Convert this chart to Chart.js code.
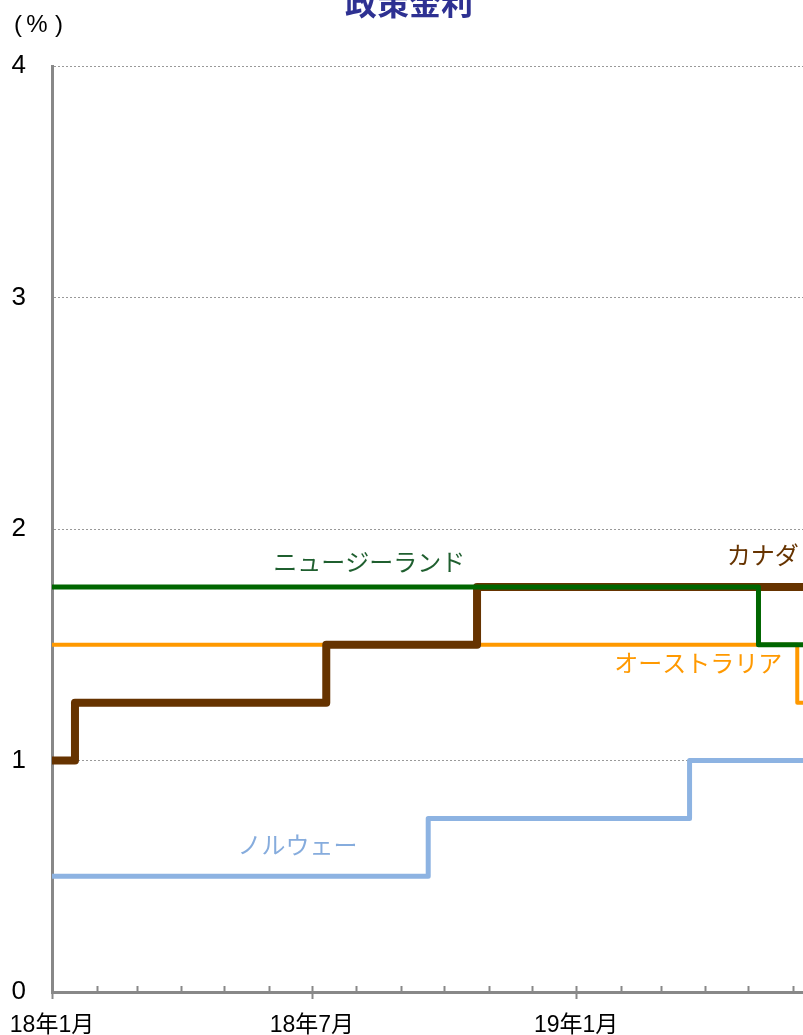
<!DOCTYPE html>
<html lang="ja">
<head>
<meta charset="UTF-8">
<title>政策金利</title>
<style>
  *{margin:0;padding:0}
  body{background:#fff;width:803px;height:1035px;overflow:hidden}
  #chart{display:block}
</style>
</head>
<body>
<canvas id="chart" width="803" height="1035"></canvas>
<script src="https://cdn.jsdelivr.net/npm/chart.js"></script>
<script>
// ---- data (change dates and rates, %) ----
const nzDates = ['2018-01-01','2019-05-08','2019-06-30'];
const nzRates = [1.75, 1.50, 1.50];
const caDates = ['2018-01-01','2018-01-17','2018-07-11','2018-10-24','2019-06-30'];
const caRates = [1.00, 1.25, 1.50, 1.75, 1.75];
const auDates = ['2018-01-01','2019-06-04','2019-06-30'];
const auRates = [1.50, 1.25, 1.25];
const noDates = ['2018-01-01','2018-09-20','2019-03-21','2019-06-30'];
const noRates = [0.50, 0.75, 1.00, 1.00];

const xStart = '2018-01-01';
const xEnd = '2019-06-08';      // picture is cut off here
const xTickDates = ['2018-01-01','2018-07-01','2019-01-01'];
const xTickLabels = ['18年1月','18年7月','19年1月'];
const yTicks = [0, 1, 2, 3, 4];

const seriesNames = ['ニュージーランド','カナダ','オーストラリア','ノルウェー'];
const seriesColors = ['#006600','#663300','#FF9900','#8DB3E2'];
const labelColors = ['#1F5F2F','#663300','#FF9900','#86ACDD'];
// where each series name is written (date, value)
const labelAt = [['2018-08-10',1.86],['2019-05-11',1.89],['2019-03-27',1.42],['2018-06-21',0.635]];

// ---- helpers ----
const t0 = Date.parse(xStart);
const day = s => (Date.parse(s) - t0) / 86400000;
const pts = (ds, vs) => ds.map((d, i) => ({x: day(d), y: vs[i]}));

// month starts for the minor ticks
const monthDays = [];
for (let m = 0; ; m++) {
  const d = Date.UTC(2018, m, 1);
  if ((d - t0) / 86400000 > day(xEnd)) break;
  monthDays.push((d - t0) / 86400000);
}
const majorDays = xTickDates.map(day);

// stepped 'before' = hold old value, then jump at the change date
const lineDs = (i, data, width, order) => ({
  label: seriesNames[i], data, borderColor: seriesColors[i], borderWidth: width,
  stepped: 'before', pointRadius: 0, fill: false, order,
  borderJoinStyle: 'round', borderCapStyle: 'butt'
});

const decor = {
  id: 'decor',
  afterDraw(chart) {
    const {ctx, scales: {x, y}} = chart;
    const base = y.getPixelForValue(0);
    ctx.save();
    // month ticks on the x axis
    ctx.strokeStyle = '#888';
    ctx.lineWidth = 2;
    monthDays.forEach(v => {
      const px = Math.round(x.getPixelForValue(v)) + 0.5;
      const major = majorDays.includes(v);
      ctx.beginPath();
      ctx.moveTo(px, base - 6);
      ctx.lineTo(px, major ? base + 7 : base);
      ctx.stroke();
    });
    // title and unit
    ctx.fillStyle = '#2E3192';
    ctx.font = "bold 32px 'Noto Sans CJK JP'";
    ctx.textAlign = 'center';
    ctx.textBaseline = 'middle';
    ctx.fillText('政策金利', 409, 3);
    ctx.fillStyle = '#000';
    ctx.font = "24px 'Liberation Sans'";
    ctx.fillText('(', 18, 25);
    ctx.fillText('%', 37, 25);
    ctx.fillText(')', 59, 25);
    // series names
    ctx.font = "24px 'Noto Sans CJK JP'";
    labelAt.forEach((a, i) => {
      ctx.fillStyle = labelColors[i];
      ctx.fillText(seriesNames[i], x.getPixelForValue(day(a[0])), y.getPixelForValue(a[1]));
    });
    ctx.restore();
  }
};

new Chart(document.getElementById('chart'), {
  type: 'line',
  data: {
    datasets: [
      lineDs(0, pts(nzDates, nzRates), 5, 0),
      lineDs(1, pts(caDates, caRates), 8, 1),
      lineDs(2, pts(auDates, auRates), 4, 2),
      lineDs(3, pts(noDates, noRates), 5, 3)
    ]
  },
  options: {
    responsive: false,
    animation: false,
    devicePixelRatio: 1,
    layout: {padding: {top: 66, right: 0, left: 0, bottom: 0}},
    plugins: {legend: {display: false}, tooltip: {enabled: false}, title: {display: false}},
    scales: {
      x: {
        type: 'linear',
        min: 0,
        max: day(xEnd),
        afterFit: s => { s.height = 43; s.paddingLeft = 0; s.paddingRight = 0; },
        afterBuildTicks: s => { s.ticks = monthDays.map(v => ({value: v})); },
        grid: {display: false},
        border: {color: '#888', width: 3},
        ticks: {
          autoSkip: false, maxRotation: 0, padding: 12,
          color: '#000',
          font: {family: "'Liberation Sans','Noto Sans CJK JP'", size: 23},
          callback: v => {
            const k = majorDays.indexOf(v);
            return k >= 0 ? xTickLabels[k] : '';
          }
        }
      },
      y: {
        min: 0,
        max: 4,
        afterFit: s => { s.width = 52; },
        afterBuildTicks: s => { s.ticks = yTicks.map(v => ({value: v})); },
        grid: {
          drawTicks: false,
          color: c => c.tick && c.tick.value === 0 ? 'rgba(0,0,0,0)' : '#999',
          lineWidth: 1
        },
        border: {color: '#888', width: 3, dash: [2, 2]},
        ticks: {
          padding: 26,
          color: '#000',
          font: {family: "'Liberation Sans'", size: 26}
        }
      }
    }
  },
  plugins: [decor]
});
</script>
</body>
</html>
